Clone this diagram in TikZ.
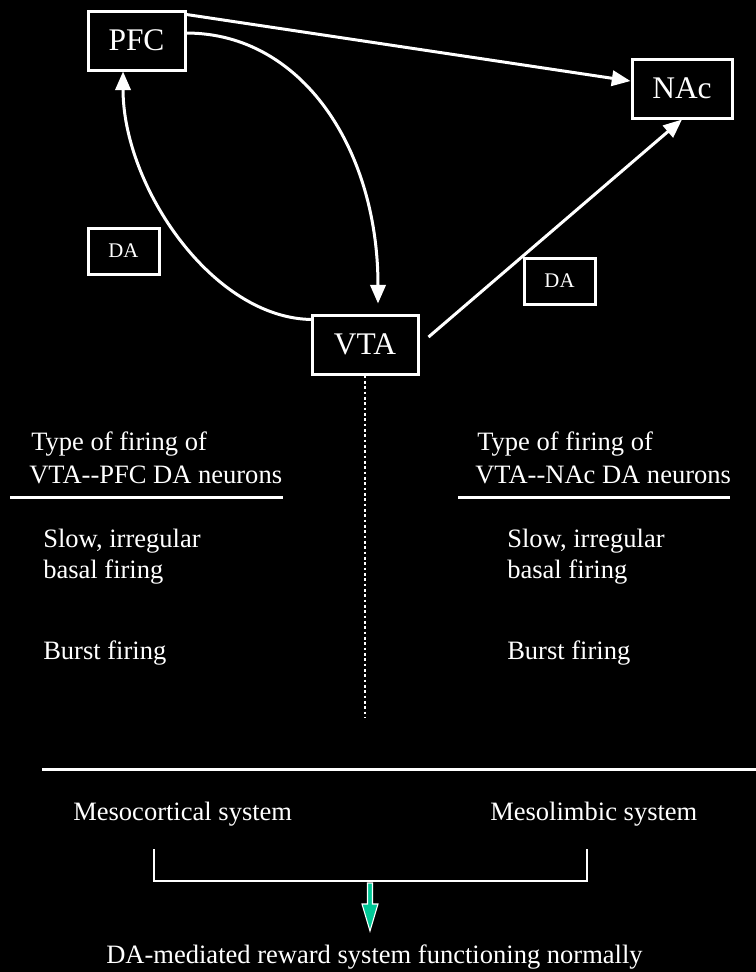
\documentclass[tikz,border=0pt]{standalone}
\usepackage{fontspec}
\setmainfont{Liberation Serif}
\usetikzlibrary{arrows.meta}
\definecolor{tealgreen}{HTML}{00C896}
\begin{document}
\begin{tikzpicture}[x=0.75pt,y=-0.75pt,
  boxnode/.style={draw=white,line width=2.25pt,text=white,inner sep=0pt,
     minimum height=44.25pt,font=\fontsize{23.6}{28}\selectfont},
  danode/.style={draw=white,line width=2.25pt,text=white,inner sep=0pt,
     minimum width=53.25pt,minimum height=34.5pt,font=\fontsize{15.6}{18}\selectfont},
  txt/.style={text=white,inner sep=0pt,anchor=base west,font=\fontsize{19.9}{24}\selectfont},
  conn/.style={white,line width=2.25pt},
  arr/.style={conn,-{Triangle[length=14pt,width=11.5pt]}},
  rule/.style={white,line width=2.25pt}]
\fill[black] (0,0) rectangle (756,972);
\useasboundingbox (0,0) rectangle (756,972);
% boxes
\node[boxnode,minimum width=72.75pt] (PFC) at (136.5,40.5) {PFC};
\node[boxnode,minimum width=75pt] (NAc) at (682,88.5) {NAc};
\node[boxnode,minimum width=79.5pt] (VTA) at (365,344.5) {VTA};
\node[danode] (DA1) at (123.5,251) {DA};
\node[danode] (DA2) at (559.5,281) {DA};
% connectors
\draw[arr] ([yshift=-3.75pt]PFC.north east) -- ([yshift=5.6pt]NAc.west);
\draw[arr] ([yshift=5.6pt]PFC.east) .. controls +(115,0) and +(0,-155) .. ([xshift=9.75pt,yshift=7.5pt]VTA.north);
\draw[arr] ([xshift=2pt,yshift=-4.5pt]VTA.north west) .. controls +(-100,0) and +(0,115) .. ([xshift=-10.1pt]PFC.south);
\draw[arr] ([xshift=6.75pt,yshift=5.6pt]VTA.east) -- (NAc.south);
\coordinate (dotend) at (365,717);
\draw[white,line width=2pt,dash pattern=on 2pt off 2pt] (VTA.south) -- (dotend);
% column texts
\node[txt] (l1) at (31,450) {Type of firing of};
\node[txt] (l2) at (29,483) {VTA-{}-PFC DA neurons};
\draw[rule] (10,497) -- (283,497);
\node[txt] (l3) at (43,547) {Slow, irregular};
\node[txt] (l4) at (43,578) {basal firing};
\node[txt] (l5) at (43,659) {Burst firing};
\node[txt] (r1) at (477,450) {Type of firing of};
\node[txt] (r2) at (475,483) {VTA-{}-NAc DA neurons};
\draw[rule] (458,497) -- (730,497);
\node[txt] (r3) at (507,547) {Slow, irregular};
\node[txt] (r4) at (507,578) {basal firing};
\node[txt] (r5) at (507,659) {Burst firing};
% bottom
\draw[rule] (42,769) -- (756,769);
\node[txt] (meso1) at (73,820) {Mesocortical system};
\node[txt] (meso2) at (490,820) {Mesolimbic system};
\draw[white,line width=2pt] (154,849) -- (154,881) -- (587,881) -- (587,849);
\filldraw[fill=tealgreen,draw=white,line width=0.8pt] (367.5,883) -- (367.5,904) -- (362,904) -- (370,931) -- (378,904) -- (372.5,904) -- (372.5,883) -- cycle;
\node[txt] (res) at (106,963) {DA-mediated reward system functioning normally};
\end{tikzpicture}
\end{document}
